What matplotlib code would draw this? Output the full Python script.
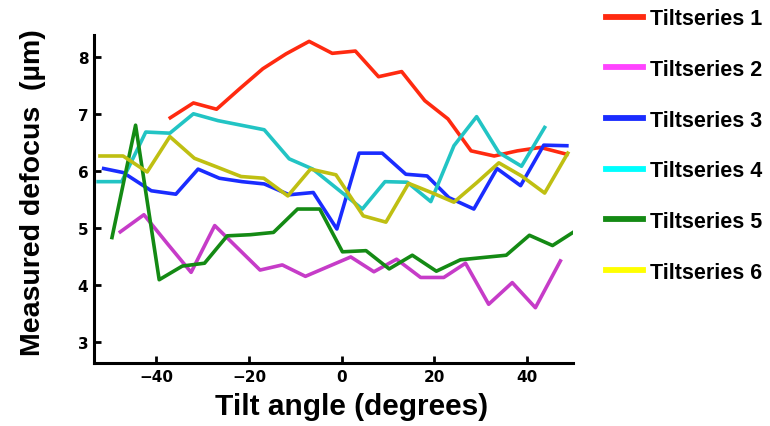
import matplotlib
matplotlib.use("Agg")
import matplotlib.pyplot as plt
from matplotlib.lines import Line2D

# tilt angles (degrees) and measured defocus (um)
ts1_x = [-37, -32, -27, -22, -17, -12, -7, -2, 3, 8, 13, 18, 23, 28, 33, 38, 43, 48.7]
ts1_y = [6.94, 7.20, 7.09, 7.45, 7.80, 8.06, 8.28, 8.07, 8.11, 7.66, 7.75, 7.24, 6.92, 6.36, 6.27, 6.36, 6.42, 6.30]

ts2_x = [-47.8, -42.7, -37.6, -32.5, -27.4, -22.5, -17.6, -12.8, -7.8, -2.9, 2.0, 7.0, 11.9, 17.1, 22.1, 26.8, 31.8, 36.9, 41.9, 47.3]
ts2_y = [4.94, 5.24, 4.73, 4.23, 5.05, 4.66, 4.27, 4.36, 4.16, 4.33, 4.50, 4.24, 4.46, 4.14, 4.14, 4.39, 3.67, 4.05, 3.61, 4.43]

ts3_x = [-51.4, -47.2, -41.1, -35.8, -31.0, -26.4, -21.5, -16.7, -11.3, -6.1, -1.0, 3.8, 8.8, 13.9, 18.5, 23.2, 28.6, 33.6, 38.7, 43.7, 48.7]
ts3_y = [6.05, 5.98, 5.66, 5.60, 6.04, 5.88, 5.82, 5.78, 5.59, 5.63, 4.99, 6.32, 6.32, 5.95, 5.92, 5.54, 5.34, 6.05, 5.75, 6.46, 6.45]

ts4_x = [-52.6, -47.5, -42.3, -37.1, -32.0, -26.7, -21.7, -16.7, -11.3, -6.2, -1.0, 4.5, 9.4, 14.2, 19.3, 24.3, 29.2, 34.0, 38.9, 43.9]
ts4_y = [5.82, 5.82, 6.69, 6.67, 7.01, 6.89, 6.81, 6.73, 6.22, 6.04, 5.70, 5.34, 5.82, 5.81, 5.47, 6.45, 6.96, 6.33, 6.09, 6.77]

ts5_x = [-49.6, -44.5, -39.4, -34.4, -29.6, -24.7, -19.7, -14.7, -9.5, -4.7, 0.2, 5.3, 10.3, 15.3, 20.5, 25.7, 30.6, 35.6, 40.6, 45.6, 50.6]
ts5_y = [4.84, 6.81, 4.10, 4.34, 4.39, 4.87, 4.89, 4.93, 5.34, 5.34, 4.59, 4.61, 4.29, 4.53, 4.25, 4.45, 4.49, 4.53, 4.88, 4.70, 4.96]

ts6_x = [-52.2, -47.2, -42.0, -37.1, -31.8, -26.7, -21.7, -16.8, -11.6, -6.7, -1.2, 4.7, 9.6, 14.5, 19.4, 24.3, 29.2, 34.0, 38.9, 43.9, 48.9]
ts6_y = [6.27, 6.27, 5.99, 6.61, 6.23, 6.07, 5.91, 5.88, 5.57, 6.04, 5.94, 5.22, 5.11, 5.79, 5.63, 5.46, 5.80, 6.15, 5.92, 5.62, 6.32]

labels = ['Tiltseries 1', 'Tiltseries 2', 'Tiltseries 3', 'Tiltseries 4', 'Tiltseries 5', 'Tiltseries 6']
line_colors = ['#ff2a10', '#c63cc8', '#1a2cff', '#22c4c4', '#148a14', '#bfbf12']
legend_colors = ['#ff2a10', '#ff44ff', '#1a2cff', '#00ffff', '#148a14', '#ffff00']

xs = [ts1_x, ts2_x, ts3_x, ts4_x, ts5_x, ts6_x]
ys = [ts1_y, ts2_y, ts3_y, ts4_y, ts5_y, ts6_y]

fig = plt.figure(figsize=(7.7, 4.27), dpi=100)
ax = fig.add_axes([0.122, 0.1475, 0.622, 0.768])

for x, y, c in zip(xs, ys, line_colors):
    ax.plot(x, y, color=c, lw=2.6)

ax.set_xlim(-53.5, 50)
ax.set_ylim(2.64, 8.39)
ax.set_xticks([-40, -20, 0, 20, 40])
ax.set_yticks([3, 4, 5, 6, 7, 8])

ax.spines['top'].set_visible(False)
ax.spines['right'].set_visible(False)
ax.spines['left'].set_linewidth(2.2)
ax.spines['bottom'].set_linewidth(2.2)
ax.tick_params(direction='in', length=5, width=2, pad=4)
for lab in ax.get_xticklabels() + ax.get_yticklabels():
    lab.set_fontweight('bold')
    lab.set_fontsize(11)

ax.set_xlabel('Tilt angle (degrees)', fontsize=21.5, fontweight='bold',
              family='Liberation Sans')
ax.xaxis.set_label_coords(0.537, -0.088)
ax.set_ylabel('Measured defocus  (µm)', fontsize=20.5, fontweight='bold',
              family='Liberation Sans')
ax.yaxis.set_label_coords(-0.10, 0.524)

handles = [Line2D([], [], color=c, lw=4.2) for c in legend_colors]
fig.legend(handles, labels, loc='upper left', bbox_to_anchor=(0.762, 1.024),
           frameon=False, handlelength=1.72, handletextpad=0.33,
           labelspacing=1.38, prop={'family': 'Liberation Sans', 'weight': 'bold', 'size': 15.5})

plt.savefig('out.png', dpi=100)
